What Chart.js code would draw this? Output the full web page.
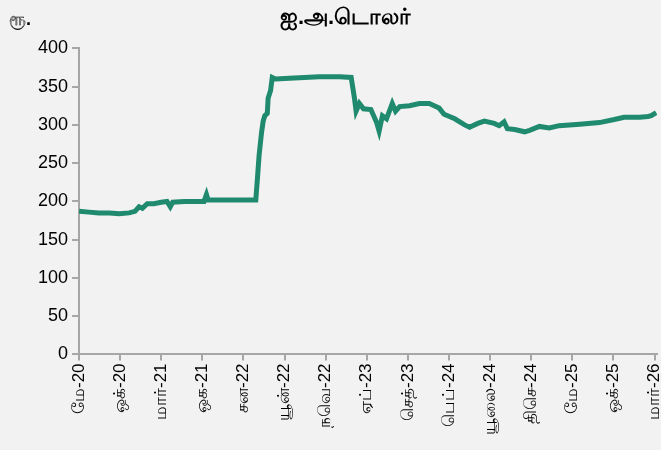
<!DOCTYPE html>
<html>
<head>
<meta charset="utf-8">
<script src="https://cdn.jsdelivr.net/npm/chart.js@4.4.1/dist/chart.umd.min.js"></script>
<style>
  html, body { margin: 0; padding: 0; background: #f2f2f2; }
  #wrap { width: 661px; height: 450px; }
</style>
</head>
<body>
<div id="wrap"><canvas id="c" width="661" height="450"></canvas></div>
<script>
// months since May 2020
const monthOffsets = [0,1.2,2.4,3.7,4.9,6.1,6.8,7.3,7.7,8.3,9.1,10.0,10.7,11.1,11.4,12.8,14.0,15.2,15.5,15.7,17.0,18.9,20.7,21.5,21.7,21.9,22.2,22.4,22.6,22.9,23.0,23.3,23.5,23.9,25.6,27.4,29.2,31.7,33.1,33.5,33.7,34.1,34.6,35.5,36.2,36.5,36.9,37.4,38.1,38.5,39.0,40.2,41.4,42.6,43.8,44.4,45.7,46.9,47.5,48.5,49.3,50.5,51.1,51.7,52.1,53.0,54.2,54.8,56.0,57.2,58.4,60.9,63.3,65.1,66.3,68.2,69.2,69.6,70.2];
const usdRates = [187,186,185,185,184,185,187,193,191,197,197,199,200,193,199,200,200,200,209,202,202,202,202,202,230,260,290,305,312,315,335,345,362,360,361,362,363,363,362,335,318,328,321,320,303,292,312,308,328,318,324,325,328,328,322,314,308,300,297,302,305,302,299,304,295,294,291,293,298,296,299,301,303,307,310,310,311,312,316];
const tickMonths = [0,5,10,15,20,25,30,35,40,45,50,55,60,65,70];
const tickLabels = ['மே-20','ஒக்-20','மார்-21','ஒக-21','சன-22','யூன்-22','நவெ-22','ஏப்-23','செத்-23','பெப்-24','யூலை-24','திசெ-24','மே-25','ஒக்-25','மார்-26'];
const yTicks = [0,50,100,150,200,250,300,350,400];

const points = monthOffsets.map((m, i) => ({ x: m, y: usdRates[i] }));
const AXIS = '#a6a6a6';
const FONT = "'Liberation Sans Narrow','Liberation Sans','Noto Sans',sans-serif";

const unitLabel = {
  id: 'unitLabel',
  afterDraw(chart) {
    const ctx = chart.ctx;
    ctx.save();
    ctx.fillStyle = '#000';
    ctx.font = "bold 18px " + FONT;
    ctx.textBaseline = 'middle';
    ctx.textAlign = 'left';
    ctx.fillText('ரூ.', 9, 20);
    ctx.restore();
  }
};

new Chart(document.getElementById('c'), {
  type: 'line',
  data: {
    datasets: [{
      data: points,
      borderColor: '#1f8a6d',
      borderWidth: 5,
      pointRadius: 0,
      tension: 0,
      fill: false
    }]
  },
  options: {
    responsive: false,
    animation: false,
    layout: { padding: { left: 34, right: 4, top: 0, bottom: 12 } },
    plugins: {
      legend: { display: false },
      tooltip: { enabled: false },
      title: {
        display: true,
        text: 'ஐ.அ.டொலர்',
        color: '#000',
        font: { family: FONT, size: 22, weight: 'bold' },
        padding: { top: 5, bottom: 17 }
      }
    },
    scales: {
      x: {
        type: 'linear',
        min: 0,
        max: 70.3,
        afterBuildTicks(scale) { scale.ticks = tickMonths.map(v => ({ value: v })); },
        afterFit(scale) { scale.paddingRight = 4; scale.paddingLeft = 0; },
        ticks: {
          autoSkip: false,
          maxRotation: 90,
          minRotation: 90,
          color: '#000',
          font: { family: FONT, size: 17 },
          padding: 3,
          callback(v) { const i = tickMonths.indexOf(v); return i >= 0 ? tickLabels[i] : ''; }
        },
        grid: { display: true, drawOnChartArea: false, drawTicks: true, tickLength: 6, color: AXIS, lineWidth: 2 },
        border: { display: true, color: AXIS, width: 2 }
      },
      y: {
        min: 0,
        max: 400,
        afterBuildTicks(scale) { scale.ticks = yTicks.map(v => ({ value: v })); },
        ticks: {
          color: '#000',
          font: { family: FONT, size: 18 },
          padding: 4
        },
        grid: { display: true, drawOnChartArea: false, drawTicks: true, tickLength: 7, color: AXIS, lineWidth: 2 },
        border: { display: true, color: AXIS, width: 2 }
      }
    }
  },
  plugins: [unitLabel]
});
</script>
</body>
</html>
